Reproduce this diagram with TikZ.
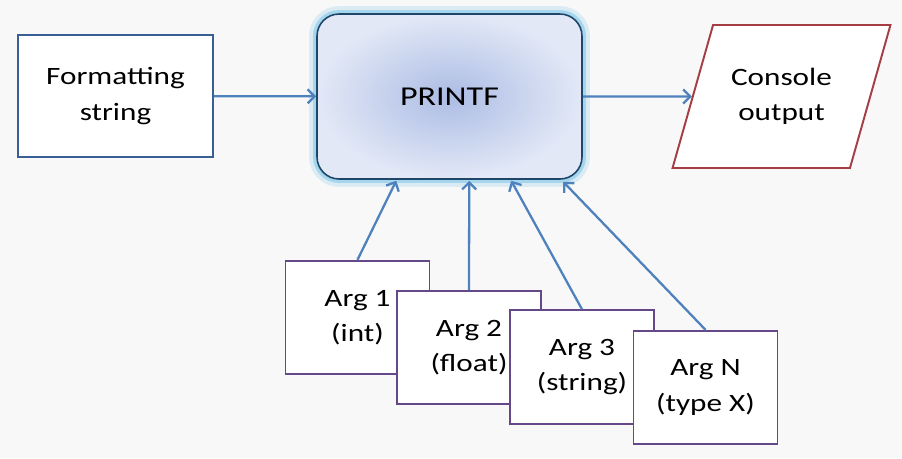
\documentclass[tikz,border=0pt]{standalone}
\usepackage{fontspec}
\setmainfont{Carlito}[FakeStretch=1.25]
\usepackage{tikz}
\usetikzlibrary{arrows.meta,positioning,shapes,calc}
\definecolor{pagebg}{RGB}{248,248,248}
\definecolor{linkblue}{RGB}{79,129,189}
\definecolor{boxblue}{RGB}{58,95,150}
\definecolor{argpurple}{RGB}{100,72,135}
\definecolor{outred}{RGB}{165,62,68}
\definecolor{coreedge}{RGB}{30,70,105}
\definecolor{coreglow}{RGB}{130,200,235}
\definecolor{coreinner}{RGB}{172,188,228}
\definecolor{coreouter}{RGB}{226,232,246}

\begin{document}
\begin{tikzpicture}[x=0.02cm, y=-0.02cm,
        box/.style={rectangle, draw=boxblue, line width=1.1pt, fill=white, align=center,
            font=\fontsize{14.2}{20}\selectfont},
        argbox/.style={box, draw=argpurple, minimum width=2.88cm, minimum height=2.27cm},
        core/.style={rectangle, rounded corners=0.44cm, draw=coreedge, line width=0.9pt,
            inner color=coreinner, outer color=coreouter, minimum width=5.3cm, minimum height=3.3cm,
            preaction={draw=coreglow, line width=9pt, opacity=0.25},
            preaction={draw=coreglow, line width=4.5pt, opacity=0.6},
            font=\fontsize{15.5}{18}\selectfont},
        outbox/.style={trapezium, trapezium left angle=64, trapezium right angle=116,
            trapezium stretches=true, draw=outred, line width=1.1pt, fill=white, align=center,
            minimum width=4.36cm, minimum height=2.86cm, font=\fontsize{14.2}{20}\selectfont},
        arrow/.style={-{Straight Barb[length=4pt,width=8pt]}, line width=1.3pt, linkblue}
    ]
    \fill[pagebg] (0,0) rectangle (902,458);
    \node[box, minimum width=3.9cm, minimum height=2.44cm] (fmt) at (115.5,96) {Formatting\\string};
    \node[core] (printf) at (449.5,96.5) {PRINTF};
    \node[outbox] (console) at (781.5,96.5) {Console\\output};
    \node[argbox] (arg1) at (357.5,317.5) {Arg 1\\(int)};
    \node[argbox] (arg2) at (469,347.5) {Arg 2\\(float)};
    \node[argbox] (arg3) at (582,367) {Arg 3\\(string)};
    \node[argbox] (argN) at (705.5,387.5) {Arg N\\(type X)};
    \draw[arrow] (fmt) -- (printf);
    \draw[arrow] (printf) -- (console);
    \draw[arrow] (arg1.north) -- ($(printf.south west)+(80,1)$);
    \draw[arrow] (arg2.north) -- ($(printf.south west)+(153,1)$);
    \draw[arrow] (arg3.north) -- ($(printf.south west)+(195,1)$);
    \draw[arrow] (argN.north) -- ($(printf.south west)+(247,2)$);
\end{tikzpicture}
\end{document}
